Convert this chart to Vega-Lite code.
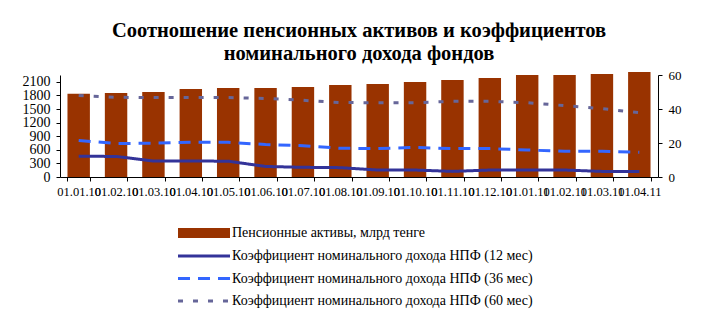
{
  "$schema": "https://vega.github.io/schema/vega-lite/v6.json",
  "autosize": {"type": "none"},
  "width": 598,
  "height": 102,
  "padding": {"left": 60, "top": 75, "right": 49, "bottom": 146},
  "background": "white",
  "config": {
    "view": {"stroke": null},
    "axis": {"labelFont": "Liberation Serif", "labelColor": "#000", "domainColor": "#000", "tickColor": "#000", "grid": false, "title": null, "labelFontSize": 13, "tickSize": 4}
  },
  "title": {
    "text": ["Соотношение пенсионных активов и коэффициентов", "номинального дохода фондов"],
    "font": "Liberation Serif", "fontSize": 20.5, "fontWeight": "bold", "color": "#000",
    "lineHeight": 23, "anchor": "middle", "frame": "group", "offset": 5
  },
  "datasets": {
    "rows": [
      {"d": "01.01.10", "s": "Пенсионные активы, млрд тенге", "v": 1839},
      {"d": "01.02.10", "s": "Пенсионные активы, млрд тенге", "v": 1854},
      {"d": "01.03.10", "s": "Пенсионные активы, млрд тенге", "v": 1876},
      {"d": "01.04.10", "s": "Пенсионные активы, млрд тенге", "v": 1943},
      {"d": "01.05.10", "s": "Пенсионные активы, млрд тенге", "v": 1965},
      {"d": "01.06.10", "s": "Пенсионные активы, млрд тенге", "v": 1965},
      {"d": "01.07.10", "s": "Пенсионные активы, млрд тенге", "v": 1987},
      {"d": "01.08.10", "s": "Пенсионные активы, млрд тенге", "v": 2031},
      {"d": "01.09.10", "s": "Пенсионные активы, млрд тенге", "v": 2053},
      {"d": "01.10.10", "s": "Пенсионные активы, млрд тенге", "v": 2097},
      {"d": "01.11.10", "s": "Пенсионные активы, млрд тенге", "v": 2141},
      {"d": "01.12.10", "s": "Пенсионные активы, млрд тенге", "v": 2185},
      {"d": "01.01.11", "s": "Пенсионные активы, млрд тенге", "v": 2252},
      {"d": "01.02.11", "s": "Пенсионные активы, млрд тенге", "v": 2252},
      {"d": "01.03.11", "s": "Пенсионные активы, млрд тенге", "v": 2274},
      {"d": "01.04.11", "s": "Пенсионные активы, млрд тенге", "v": 2318},
      {"d": "01.01.10", "s": "Коэффициент номинального дохода НПФ (12 мес)", "v": 12.2},
      {"d": "01.02.10", "s": "Коэффициент номинального дохода НПФ (12 мес)", "v": 12.1},
      {"d": "01.03.10", "s": "Коэффициент номинального дохода НПФ (12 мес)", "v": 9.4},
      {"d": "01.04.10", "s": "Коэффициент номинального дохода НПФ (12 мес)", "v": 9.4},
      {"d": "01.05.10", "s": "Коэффициент номинального дохода НПФ (12 мес)", "v": 9.3},
      {"d": "01.06.10", "s": "Коэффициент номинального дохода НПФ (12 мес)", "v": 6.2},
      {"d": "01.07.10", "s": "Коэффициент номинального дохода НПФ (12 мес)", "v": 5.7},
      {"d": "01.08.10", "s": "Коэффициент номинального дохода НПФ (12 мес)", "v": 5.5},
      {"d": "01.09.10", "s": "Коэффициент номинального дохода НПФ (12 мес)", "v": 4.1},
      {"d": "01.10.10", "s": "Коэффициент номинального дохода НПФ (12 мес)", "v": 4.1},
      {"d": "01.11.10", "s": "Коэффициент номинального дохода НПФ (12 мес)", "v": 3.3},
      {"d": "01.12.10", "s": "Коэффициент номинального дохода НПФ (12 мес)", "v": 4.1},
      {"d": "01.01.11", "s": "Коэффициент номинального дохода НПФ (12 мес)", "v": 4.1},
      {"d": "01.02.11", "s": "Коэффициент номинального дохода НПФ (12 мес)", "v": 4.1},
      {"d": "01.03.11", "s": "Коэффициент номинального дохода НПФ (12 мес)", "v": 3.3},
      {"d": "01.04.11", "s": "Коэффициент номинального дохода НПФ (12 мес)", "v": 3.3},
      {"d": "01.01.10", "s": "Коэффициент номинального дохода НПФ (36 мес)", "v": 21.5},
      {"d": "01.02.10", "s": "Коэффициент номинального дохода НПФ (36 мес)", "v": 19.7},
      {"d": "01.03.10", "s": "Коэффициент номинального дохода НПФ (36 мес)", "v": 19.9},
      {"d": "01.04.10", "s": "Коэффициент номинального дохода НПФ (36 мес)", "v": 20.5},
      {"d": "01.05.10", "s": "Коэффициент номинального дохода НПФ (36 мес)", "v": 20.4},
      {"d": "01.06.10", "s": "Коэффициент номинального дохода НПФ (36 мес)", "v": 19.1},
      {"d": "01.07.10", "s": "Коэффициент номинального дохода НПФ (36 мес)", "v": 18.4},
      {"d": "01.08.10", "s": "Коэффициент номинального дохода НПФ (36 мес)", "v": 16.9},
      {"d": "01.09.10", "s": "Коэффициент номинального дохода НПФ (36 мес)", "v": 16.7},
      {"d": "01.10.10", "s": "Коэффициент номинального дохода НПФ (36 мес)", "v": 17.4},
      {"d": "01.11.10", "s": "Коэффициент номинального дохода НПФ (36 мес)", "v": 16.7},
      {"d": "01.12.10", "s": "Коэффициент номинального дохода НПФ (36 мес)", "v": 16.7},
      {"d": "01.01.11", "s": "Коэффициент номинального дохода НПФ (36 мес)", "v": 15.9},
      {"d": "01.02.11", "s": "Коэффициент номинального дохода НПФ (36 мес)", "v": 15.1},
      {"d": "01.03.11", "s": "Коэффициент номинального дохода НПФ (36 мес)", "v": 15.1},
      {"d": "01.04.11", "s": "Коэффициент номинального дохода НПФ (36 мес)", "v": 14.5},
      {"d": "01.01.10", "s": "Коэффициент номинального дохода НПФ (60 мес)", "v": 48.0},
      {"d": "01.02.10", "s": "Коэффициент номинального дохода НПФ (60 мес)", "v": 46.9},
      {"d": "01.03.10", "s": "Коэффициент номинального дохода НПФ (60 мес)", "v": 46.7},
      {"d": "01.04.10", "s": "Коэффициент номинального дохода НПФ (60 мес)", "v": 46.7},
      {"d": "01.05.10", "s": "Коэффициент номинального дохода НПФ (60 мес)", "v": 46.7},
      {"d": "01.06.10", "s": "Коэффициент номинального дохода НПФ (60 мес)", "v": 46.2},
      {"d": "01.07.10", "s": "Коэффициент номинального дохода НПФ (60 мес)", "v": 45.1},
      {"d": "01.08.10", "s": "Коэффициент номинального дохода НПФ (60 мес)", "v": 43.8},
      {"d": "01.09.10", "s": "Коэффициент номинального дохода НПФ (60 мес)", "v": 43.7},
      {"d": "01.10.10", "s": "Коэффициент номинального дохода НПФ (60 мес)", "v": 43.7},
      {"d": "01.11.10", "s": "Коэффициент номинального дохода НПФ (60 мес)", "v": 44.5},
      {"d": "01.12.10", "s": "Коэффициент номинального дохода НПФ (60 мес)", "v": 44.5},
      {"d": "01.01.11", "s": "Коэффициент номинального дохода НПФ (60 мес)", "v": 43.7},
      {"d": "01.02.11", "s": "Коэффициент номинального дохода НПФ (60 мес)", "v": 42.0},
      {"d": "01.03.11", "s": "Коэффициент номинального дохода НПФ (60 мес)", "v": 40.2},
      {"d": "01.04.11", "s": "Коэффициент номинального дохода НПФ (60 мес)", "v": 37.8}
    ]
  },
  "data": {"name": "rows"},
  "encoding": {
    "x": {
      "field": "d", "type": "ordinal", "sort": null,
      "scale": {"paddingInner": 0.4, "paddingOuter": 0.2},
      "axis": {"labelAngle": 0, "labelOverlap": false, "labelFontSize": 12.5, "tickBand": "extent", "labelPadding": 4}
    }
  },
  "layer": [
    {
      "transform": [{"filter": "datum.s === 'Пенсионные активы, млрд тенге'"}],
      "mark": {"type": "bar"},
      "encoding": {
        "y": {
          "field": "v", "type": "quantitative",
          "scale": {"domain": [0, 2250], "nice": false},
          "axis": {"orient": "left", "values": [0, 300, 600, 900, 1200, 1500, 1800, 2100], "format": "d", "labelOverlap": false, "labelFontSize": 14, "labelPadding": 6}
        },
        "color": {
          "field": "s", "type": "nominal",
          "scale": {"range": ["#993300"]},
          "legend": {
            "orient": "none", "legendX": 134, "legendY": 148, "title": null, "padding": 0,
            "symbolType": "M-2.6,-0.5H2.6V0.5H-2.6Z", "symbolSize": 400, "symbolStrokeWidth": 0,
            "labelFont": "Liberation Serif", "labelFontSize": 14, "labelColor": "#000", "labelOffset": 18, "labelLimit": 500
          }
        }
      }
    },
    {
      "transform": [{"filter": "datum.s !== 'Пенсионные активы, млрд тенге'"}],
      "mark": {"type": "line", "strokeWidth": 3},
      "encoding": {
        "y": {
          "field": "v", "type": "quantitative",
          "scale": {"domain": [0, 60], "nice": false},
          "axis": {"orient": "right", "values": [0, 20, 40, 60], "labelOverlap": false, "labelPadding": 6}
        },
        "stroke": {
          "field": "s", "type": "nominal",
          "scale": {
            "domain": ["Коэффициент номинального дохода НПФ (12 мес)", "Коэффициент номинального дохода НПФ (36 мес)", "Коэффициент номинального дохода НПФ (60 мес)"],
            "range": ["#333399", "#3366FF", "#666699"]
          },
          "legend": {
            "orient": "none", "legendX": 132.5, "legendY": 169.5, "title": null, "padding": 0, "rowPadding": 3.5,
            "symbolType": "M-2.6,0H2.6", "symbolSize": 400, "symbolStrokeWidth": 3,
            "labelFont": "Liberation Serif", "labelFontSize": 14, "labelColor": "#000", "labelOffset": 16.5, "labelLimit": 500
          }
        },
        "strokeDash": {
          "field": "s", "type": "nominal",
          "scale": {
            "domain": ["Коэффициент номинального дохода НПФ (12 мес)", "Коэффициент номинального дохода НПФ (36 мес)", "Коэффициент номинального дохода НПФ (60 мес)"],
            "range": [[1, 0], [12, 8], [5, 10]]
          },
          "legend": {
            "orient": "none", "legendX": 132.5, "legendY": 169.5, "title": null, "padding": 0, "rowPadding": 3.5,
            "symbolType": "M-2.6,0H2.6", "symbolSize": 400, "symbolStrokeWidth": 3,
            "labelFont": "Liberation Serif", "labelFontSize": 14, "labelColor": "#000", "labelOffset": 16.5, "labelLimit": 500
          }
        }
      }
    }
  ],
  "resolve": {"scale": {"y": "independent"}}
}
